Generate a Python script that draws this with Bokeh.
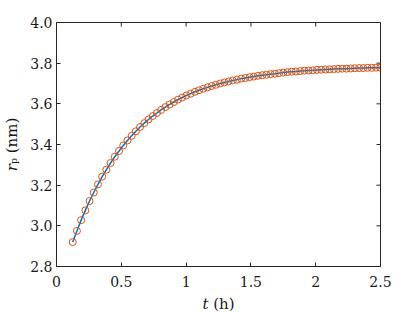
import math
from bokeh.plotting import figure
from bokeh.models import FixedTicker, LinearAxis, Range1d
from bokeh.embed import file_html
from bokeh.resources import INLINE

# time (h)
t = [0.125, 0.1575, 0.19, 0.2225, 0.255, 0.2875, 0.32, 0.3525, 0.385, 0.4175,
     0.45, 0.4825, 0.515, 0.5475, 0.58, 0.6125, 0.645, 0.6775, 0.71, 0.7425,
     0.775, 0.8075, 0.84, 0.8725, 0.905, 0.9375, 0.97, 1.0025, 1.035, 1.0675,
     1.1, 1.1325, 1.165, 1.1975, 1.23, 1.2625, 1.295, 1.3275, 1.36, 1.3925,
     1.425, 1.4575, 1.49, 1.5225, 1.555, 1.5875, 1.62, 1.6525, 1.685, 1.7175,
     1.75, 1.7825, 1.815, 1.8475, 1.88, 1.9125, 1.945, 1.9775, 2.01, 2.0425,
     2.075, 2.1075, 2.14, 2.1725, 2.205, 2.2375, 2.27, 2.3025, 2.335, 2.3675,
     2.4, 2.4325, 2.465, 2.4975]
# pore radius r_p (nm)
r = [2.920, 2.975, 3.028, 3.076, 3.122, 3.164, 3.204, 3.242, 3.276, 3.309,
     3.340, 3.368, 3.395, 3.420, 3.443, 3.465, 3.486, 3.505, 3.523, 3.540,
     3.555, 3.570, 3.584, 3.597, 3.609, 3.621, 3.631, 3.641, 3.650, 3.659,
     3.667, 3.674, 3.681, 3.688, 3.694, 3.700, 3.705, 3.710, 3.715, 3.719,
     3.724, 3.727, 3.731, 3.734, 3.738, 3.741, 3.743, 3.746, 3.748, 3.751,
     3.754, 3.756, 3.758, 3.759, 3.761, 3.763, 3.764, 3.765, 3.767, 3.768,
     3.769, 3.770, 3.771, 3.772, 3.773, 3.773, 3.774, 3.775, 3.776, 3.776,
     3.777, 3.777, 3.778, 3.778]

x_ticks = [0, 0.5, 1, 1.5, 2, 2.5]
x_tick_labels = ["0", "0.5", "1", "1.5", "2", "2.5"]
y_ticks = [2.8, 3.0, 3.2, 3.4, 3.6, 3.8, 4.0]
y_tick_labels = ["2.8", "3.0", "3.2", "3.4", "3.6", "3.8", "4.0"]
x_label = "\U0001D461 (h)"
y_label = "\U0001D45F\u209A (nm)"

FONT = "DejaVu Serif"
AX = "#262626"
TXT = "#1a1a1a"

p = figure(frame_width=324, frame_height=244,
           x_range=Range1d(0, 2.5), y_range=Range1d(2.8, 4.0),
           output_backend="svg", toolbar_location=None,
           min_border_left=53, min_border_right=24,
           min_border_top=22, min_border_bottom=40,
           x_axis_location=None, y_axis_location=None)
p.grid.visible = False
p.outline_line_color = AX
p.outline_line_width = 1
p.background_fill_color = "white"
p.border_fill_color = "white"

def style(ax, ticks, labels):
    ax.ticker = FixedTicker(ticks=ticks)
    ax.major_label_overrides = {tk: lb for tk, lb in zip(ticks, labels)}
    ax.minor_tick_line_color = None
    ax.major_tick_in = 4
    ax.major_tick_out = 0
    ax.major_tick_line_color = AX
    ax.axis_line_color = AX
    ax.major_label_text_font = FONT
    ax.major_label_text_color = TXT
    ax.major_label_text_font_size = "14px"
    ax.axis_label_text_font = FONT
    ax.axis_label_text_font_size = "15px"
    ax.axis_label_text_font_style = "normal"
    ax.axis_label_text_color = TXT

bx = LinearAxis(axis_label=x_label)
style(bx, x_ticks, x_tick_labels)
bx.major_label_standoff = 9
bx.axis_label_standoff = 5
p.add_layout(bx, "below")

lx = LinearAxis(axis_label=y_label)
style(lx, y_ticks, y_tick_labels)
lx.major_label_standoff = 4
lx.axis_label_standoff = 6
p.add_layout(lx, "left")

# inward ticks on the top and right edges of the box
p.ray(x=x_ticks, y=[4.0] * len(x_ticks), length=4, length_units="screen",
      angle=-math.pi / 2, line_color=AX, line_width=1)
p.ray(x=[2.5] * len(y_ticks), y=y_ticks, length=4, length_units="screen",
      angle=math.pi, line_color=AX, line_width=1)

p.line(t, r, line_color="#0072BD", line_width=1.5)
p.scatter(t, r, marker="circle", size=7, fill_color=None,
          line_color="#D95319", line_width=1)

open("out.html", "w").write(file_html(p, INLINE))
